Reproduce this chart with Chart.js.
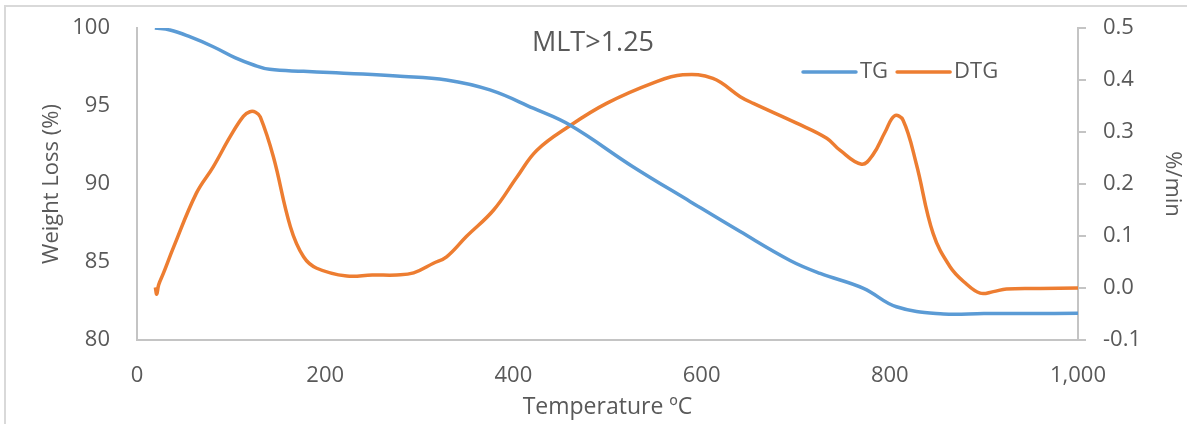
<!DOCTYPE html>
<html>
<head>
<meta charset="utf-8">
<script src="https://cdn.jsdelivr.net/npm/chart.js@4.4.1/dist/chart.umd.min.js"></script>
<style>
  html, body { margin: 0; padding: 0; background: #fff; }
  #wrap { width: 1187px; height: 424px; }
</style>
</head>
<body>
<div id="wrap"><canvas id="tgChart" width="1187" height="424"></canvas></div>
<script>
// TG curve (temperature / weight %)
const tgTemp = [19, 35, 56, 81, 104, 124, 141, 177, 205, 240, 276, 329, 375, 421, 460, 527, 588, 641, 694, 726, 772, 807, 857, 900, 950, 1000];
const tgWeight = [100, 99.87, 99.44, 98.8, 98.1, 97.63, 97.35, 97.22, 97.14, 97.05, 96.92, 96.67, 96.03, 94.86, 93.78, 91.11, 88.87, 86.95, 85.1, 84.27, 83.31, 82.13, 81.67, 81.7, 81.7, 81.71];

// DTG curve (temperature / %/min)
const dtgTemp = [19.5, 21, 23, 28, 39, 63, 81, 99, 113, 120, 126, 131, 145, 163, 177, 191, 223, 250, 276, 294, 315, 329, 350, 379, 404, 425, 460, 499, 548, 580, 612, 641, 655, 701, 733, 747, 770, 782, 795, 805, 814, 828, 846, 864, 880, 896, 910, 924, 960, 1000];
const dtgRate = [0.001, -0.012, 0.006, 0.028, 0.079, 0.182, 0.233, 0.291, 0.33, 0.339, 0.338, 0.329, 0.252, 0.118, 0.06, 0.038, 0.023, 0.025, 0.025, 0.029, 0.0475, 0.06, 0.099, 0.15, 0.214, 0.265, 0.312, 0.355, 0.394, 0.41, 0.403, 0.368, 0.355, 0.317, 0.288, 0.265, 0.238, 0.256, 0.30, 0.331, 0.323, 0.24, 0.105, 0.041, 0.01, -0.01, -0.007, -0.002, -0.001, 0.0];

const xTicks = [0, 200, 400, 600, 800, 1000];
const chartTitle = 'MLT>1.25';

const FONT = "'Open Sans', 'Liberation Sans', sans-serif";
const TXT = '#595959';
const AXIS = '#c4c4c4';

const toPts = (xs, ys) => xs.map((x, i) => ({x: x, y: ys[i]}));

// fix a side axis width and drop the label overflow padding
const fixWidth = w => s => {
  s.width = w;
  s.paddingTop = 0;
  s.paddingBottom = 0;
};

// frame, title and legend drawn inside the plot
const extras = {
  id: 'extras',
  beforeDraw(chart) {
    const c = chart.ctx;
    c.save();
    c.strokeStyle = '#d9d9d9';
    c.lineWidth = 2;
    c.strokeRect(5, 6, 1300, 500);
    c.restore();
  },
  afterDraw(chart) {
    const c = chart.ctx;
    const ds = chart.data.datasets;
    c.save();
    c.fillStyle = TXT;
    c.font = '27px ' + FONT;
    c.textAlign = 'center';
    c.textBaseline = 'middle';
    c.fillText(chartTitle, 593, 43);

    let x = 803;
    const y = 72;
    c.font = '22px ' + FONT;
    c.textAlign = 'left';
    c.lineCap = 'round';
    ds.forEach(d => {
      c.strokeStyle = d.borderColor;
      c.lineWidth = 3.5;
      c.beginPath();
      c.moveTo(x, y);
      c.lineTo(x + 53, y);
      c.stroke();
      c.fillStyle = TXT;
      c.fillText(d.label, x + 57, y);
      x += 57 + c.measureText(d.label).width + 9;
    });
    c.restore();
  }
};

const ctx = document.getElementById('tgChart').getContext('2d');
const chart = new Chart(ctx, {
  type: 'line',
  data: {
    datasets: [
      {
        label: 'TG',
        data: toPts(tgTemp, tgWeight),
        yAxisID: 'y',
        borderColor: '#5b9bd5',
        borderWidth: 3.5,
        pointRadius: 0,
        tension: 0.4,
        fill: false
      },
      {
        label: 'DTG',
        data: toPts(dtgTemp, dtgRate),
        yAxisID: 'y2',
        borderColor: '#ed7d31',
        borderWidth: 3.5,
        pointRadius: 0,
        tension: 0.4,
        fill: false
      }
    ]
  },
  options: {
    responsive: false,
    animation: false,
    layout: { padding: { top: 28, left: 0, right: 0, bottom: 0 } },
    plugins: {
      legend: { display: false },
      tooltip: { enabled: false },
      title: { display: false }
    },
    scales: {
      x: {
        type: 'linear',
        min: 0,
        max: 1000,
        afterBuildTicks: s => { s.ticks = xTicks.map(v => ({value: v})); },
        afterFit: s => { s.height = 84; },
        grid: { drawOnChartArea: false, drawTicks: false },
        border: { display: true, color: AXIS, width: 2 },
        ticks: { color: TXT, padding: 23, font: { family: FONT, size: 22 } },
        title: {
          display: true,
          text: 'Temperature ºC',
          color: TXT,
          font: { family: FONT, size: 23 },
          padding: { top: 0, bottom: 3 }
        }
      },
      y: {
        position: 'left',
        min: 80,
        max: 100,
        ticks: { stepSize: 5, color: TXT, padding: 27, font: { family: FONT, size: 22 } },
        afterFit: fixWidth(137),
        grid: { drawOnChartArea: false, drawTicks: false },
        border: { display: true, color: AXIS, width: 2 },
        title: {
          display: true,
          text: 'Weight Loss (%)',
          color: TXT,
          font: { family: FONT, size: 22 },
          padding: { top: 39, bottom: 0 }
        }
      },
      y2: {
        position: 'right',
        min: -0.1,
        max: 0.5,
        ticks: {
          stepSize: 0.1,
          color: TXT,
          padding: 17,
          font: { family: FONT, size: 22 },
          callback: v => (Math.abs(v) < 1e-9 ? 0 : v).toFixed(1)
        },
        afterFit: fixWidth(109),
        grid: { drawOnChartArea: false, drawTicks: true, tickLength: 8, color: AXIS, lineWidth: 2 },
        border: { display: true, color: AXIS, width: 2 },
        title: {
          display: true,
          text: '%/min',
          color: TXT,
          font: { family: FONT, size: 22 },
          padding: { top: 2, bottom: 0 }
        }
      }
    }
  },
  plugins: [extras]
});
</script>
</body>
</html>
